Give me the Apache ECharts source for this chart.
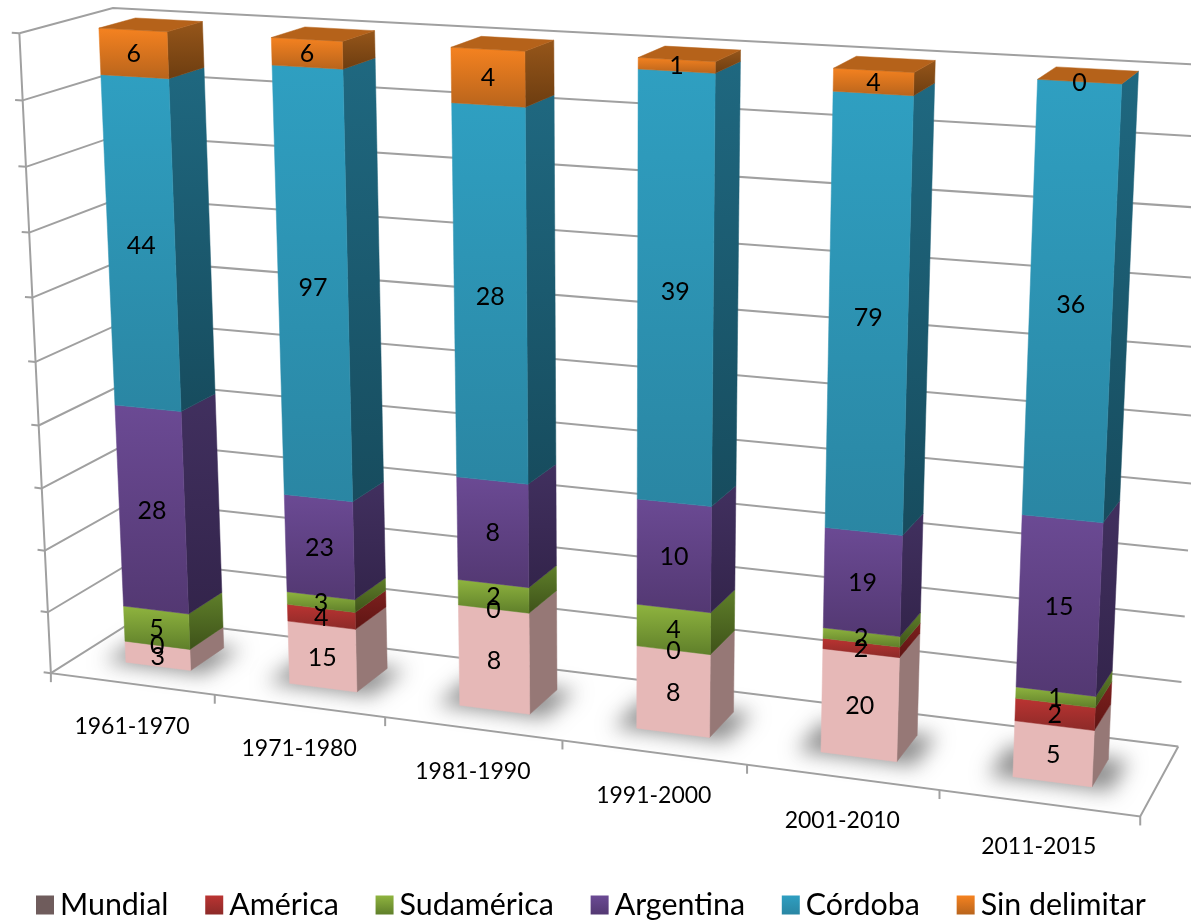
<!DOCTYPE html>
<html><head><meta charset="utf-8">
<style>html,body{margin:0;padding:0;background:#fff}#c{width:1191px;height:920px}</style>
<script src="https://cdn.jsdelivr.net/npm/echarts@6/dist/echarts.min.js"></script>
</head><body><div id="c"></div>
<script>
const categories = ['1961-1970','1971-1980','1981-1990','1991-2000','2001-2010','2011-2015'];
const mundial    = [3,15,8,8,20,5];
const america    = [0,4,0,0,2,2];
const sudamerica = [5,3,2,4,2,1];
const argentina  = [28,23,8,10,19,15];
const cordoba    = [44,97,28,39,79,36];
const sinDelimitar = [6,6,4,1,4,0];
const valueTicks = [0,10,20,30,40,50,60,70,80,90,100];
const seriesNames = ['Mundial','América','Sudamérica','Argentina','Córdoba','Sin delimitar'];
const seriesValues = [mundial,america,sudamerica,argentina,cordoba,sinDelimitar];

// Perspective camera of the 3D plot box (world x: categories, y: 0..1 share, z: 0..1 depth)
const P=[0.159776,-0.032552,0.094429,0.050883,0.008285,-0.641746,-0.023361,0.673162,-0.019102,-0.053106,0.051564];
function proj(x,y,z){
  const w=P[8]*x+P[9]*y+P[10]*z+1;
  return [1000*(P[0]*x+P[1]*y+P[2]*z+P[3])/w,1000*(P[4]*x+P[5]*y+P[6]*z+P[7])/w];
}
const GRID={left:0,top:0,width:600,height:600};
const BAR_W=.4, Z0=.3, Z1=.7;
const FONT='Lato, Carlito, sans-serif';

const grad=(a,b)=>new echarts.graphic.LinearGradient(0,0,0,1,[{offset:0,color:a},{offset:1,color:b}]);
const faces=[
 {front:['#e6b8b7','#e6b8b7'],side:['#967876','#967876'],top:'#c09a99',legend:'#6f5c5c'},
 {front:['#bb3432','#8c2a28'],side:['#7d201e','#5e1513'],top:'#8c2a28',legend:null},
 {front:['#8fb43f','#5f7f2a'],side:['#5f7f2a','#3e5219'],top:'#6a8a2c',legend:null},
 {front:['#6b4a94','#533872'],side:['#41305f','#33244b'],top:'#4f3670',legend:null},
 {front:['#2f9fc1','#2a86a3'],side:['#1f6880','#174c5e'],top:'#1f7a95',legend:null},
 {front:['#f58220','#b8641c'],side:['#96561a','#6d3d10'],top:'#b5621a',legend:null}
];
const wx=p=>(p[0]-GRID.left)/(GRID.width/categories.length);
const wy=p=>(GRID.top+GRID.height-p[1])/GRID.height;

function barItem(idx){return function(params,api){
  const a=api.coord([api.value(0),api.value(1)]), b=api.coord([api.value(0),api.value(2)]);
  const cx=wx(a), y0=wy(a), y1=wy(b), x0=cx-BAR_W/2, x1=cx+BAR_W/2;
  const f=faces[idx];
  const poly=(pts,fill)=>({type:'polygon',shape:{points:pts},style:{fill,stroke:fill,lineWidth:.5}});
  const kids=[];
  if(y1>y0){
    kids.push(poly([proj(x1,y1,Z0),proj(x1,y1,Z1),proj(x1,y0,Z1),proj(x1,y0,Z0)],grad(f.side[0],f.side[1])));
    kids.push(poly([proj(x0,y1,Z0),proj(x1,y1,Z0),proj(x1,y0,Z0),proj(x0,y0,Z0)],grad(f.front[0],f.front[1])));
  }
  if(idx===seriesNames.length-1)
    kids.push(poly([proj(x0,y1,Z0),proj(x1,y1,Z0),proj(x1,y1,Z1),proj(x0,y1,Z1)],f.top));
  const t=proj(cx,(y0+y1)/2,Z0);
  kids.push({type:'text',z2:100,style:{text:String(api.value(3)),x:t[0],y:t[1]+1,align:'center',verticalAlign:'middle',fill:'#000',font:'25px '+FONT}});
  return {type:'group',children:kids};
};}

function frameItem(params,api){
  const y=wy(api.coord([0,api.value(0)])), n=categories.length;
  const L={stroke:'#a0a0a0',lineWidth:2,fill:null};
  const kids=[{type:'polyline',shape:{points:[proj(0,y,0),proj(0,y,1),proj(n,y,1)]},style:L},
              {type:'line',shape:{x1:proj(-.045,y,0)[0],y1:proj(-.045,y,0)[1],x2:proj(0,y,0)[0],y2:proj(0,y,0)[1]},style:L}];
  if(y===0){
    kids.push({type:'polyline',shape:{points:[proj(0,1,0),proj(0,0,0),proj(n,0,0),proj(n,0,1)]},style:L});
  }
  return {type:'group',children:kids};
}
const OFF=3000; // the caster sits off-canvas so that only its soft shadow lands on the floor
function catItem(params,api){
  const i=api.value(0), p=api.coord([i,0]), cx=wx(p), x=cx-.5, n=categories.length;
  const L={stroke:'#a0a0a0',lineWidth:2,fill:null};
  const tick=xx=>{const a=proj(xx,0,0);return {type:'line',shape:{x1:a[0],y1:a[1],x2:a[0],y2:a[1]+9},style:L};};
  const c=proj(cx,0,0);
  const kids=[tick(x),{type:'text',style:{text:categories[i],x:c[0],y:c[1]+43,align:'center',verticalAlign:'middle',fill:'#000',font:'23px '+FONT}}];
  if(i===n-1)kids.push(tick(x+1));
  const sx0=cx-BAR_W/2-.12,sx1=cx+BAR_W/2+.1,sz0=Z0-.03,sz1=Z1+.02;
  const foot=[proj(sx0,0,sz0),proj(sx1,0,sz0),proj(sx1,0,sz1),proj(sx0,0,sz1)].map(q=>[q[0]-OFF,q[1]]);
  kids.push({type:'polygon',shape:{points:foot},style:{fill:'#000',shadowBlur:20,shadowOffsetX:OFF,shadowColor:'rgba(125,125,125,.85)'}});
  return {type:'group',children:kids};
}

const totals=categories.map((_,i)=>seriesValues.reduce((s,v)=>s+v[i],0));
const bars=seriesNames.map((name,s)=>{
  const data=categories.map((_,i)=>{
    let lo=0;for(let k=0;k<s;k++)lo+=seriesValues[k][i];
    return [i,lo/totals[i]*100,(lo+seriesValues[s][i])/totals[i]*100,seriesValues[s][i]];
  });
  const f=faces[s];
  return {type:'custom',name,renderItem:barItem(s),data,encode:{x:0,y:[1,2]},z:3,silent:true,animation:false,
          itemStyle:{color:f.legend||grad(f.front[0],f.front[1])}};
});

const chart=echarts.init(document.getElementById('c'),null,{renderer:'canvas'});
chart.setOption({
  animation:false,
  backgroundColor:'#fff',
  grid:GRID,
  xAxis:{type:'category',data:categories,show:false},
  yAxis:{type:'value',min:0,max:100,interval:10,show:false},
  legend:{left:31,top:885,itemWidth:18,itemHeight:19,itemGap:36.8,icon:'rect',data:seriesNames,selectedMode:false,
    textStyle:{fontFamily:FONT,fontSize:30.4,color:'#000',padding:[0,0,0,1]}},
  series:[
    {type:'custom',name:'frame',renderItem:frameItem,data:valueTicks.map(v=>[v]),encode:{y:0},z:1,silent:true},
    {type:'custom',name:'categories',renderItem:catItem,data:categories.map((_,i)=>[i]),encode:{x:0},z:2,silent:true},
    ...bars
  ]
});
</script></body></html>
